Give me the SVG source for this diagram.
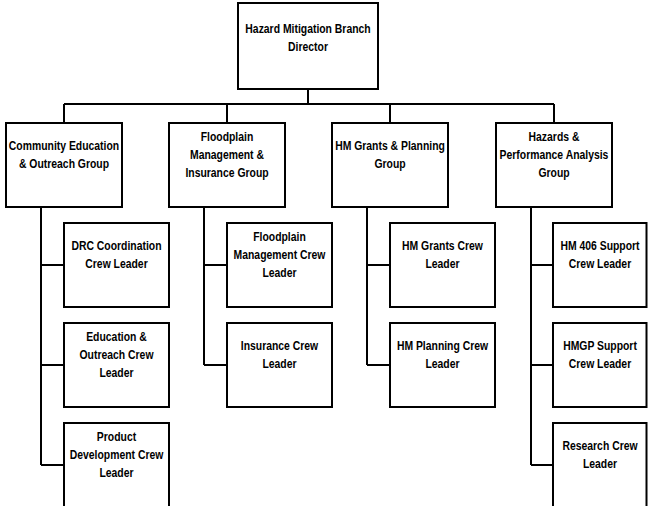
<svg xmlns="http://www.w3.org/2000/svg" width="648" height="506" viewBox="0 0 648 506">
<style>
.box{fill:#fff;stroke:#000;stroke-width:2}
.ln{fill:none;stroke:#000;stroke-width:2}
text{font-family:"Liberation Sans",Arial,sans-serif;font-weight:bold;font-size:13px;text-anchor:middle;fill:#000}
</style>
<rect width="648" height="506" fill="#fff"/>
<g id="connectors">
<path class="ln" d="M308 89V104M64 104H554M64 104V123M227 104V123M390 104V123M554 104V123"/>
<path class="ln" d="M41 207V465M41 265H64M41 365H64M41 465H64"/>
<path class="ln" d="M204 207V365M204 265H227M204 365H227"/>
<path class="ln" d="M367 207V365M367 265H390M367 365H390"/>
<path class="ln" d="M531 207V465M531 265H553M531 365H553M531 465H553"/>
</g>
<g id="director"><rect class="box" x="238" y="3" width="140" height="86"/><text transform="translate(308 33) scale(0.8 1)">Hazard Mitigation Branch</text><text transform="translate(308 51) scale(0.8 1)">Director</text></g>
<g id="community"><rect class="box" x="6" y="123" width="116" height="84"/><text transform="translate(64 150) scale(0.8 1)">Community Education</text><text transform="translate(64 168) scale(0.8 1)">&amp; Outreach Group</text></g>
<g id="floodplain"><rect class="box" x="169" y="123" width="116" height="84"/><text transform="translate(227 141) scale(0.8 1)">Floodplain</text><text transform="translate(227 159) scale(0.8 1)">Management &amp;</text><text transform="translate(227 177) scale(0.8 1)">Insurance Group</text></g>
<g id="grants"><rect class="box" x="332" y="123" width="116" height="84"/><text transform="translate(390 150) scale(0.8 1)">HM Grants &amp; Planning</text><text transform="translate(390 168) scale(0.8 1)">Group</text></g>
<g id="hazards"><rect class="box" x="496" y="123" width="116" height="84"/><text transform="translate(554 141) scale(0.8 1)">Hazards &amp;</text><text transform="translate(554 159) scale(0.8 1)">Performance Analysis</text><text transform="translate(554 177) scale(0.8 1)">Group</text></g>
<g id="drc"><rect class="box" x="64" y="223" width="105" height="84"/><text transform="translate(116.5 250) scale(0.8 1)">DRC Coordination</text><text transform="translate(116.5 268) scale(0.8 1)">Crew Leader</text></g>
<g id="education"><rect class="box" x="64" y="323" width="105" height="84"/><text transform="translate(116.5 341) scale(0.8 1)">Education &amp;</text><text transform="translate(116.5 359) scale(0.8 1)">Outreach Crew</text><text transform="translate(116.5 377) scale(0.8 1)">Leader</text></g>
<g id="product"><rect class="box" x="64" y="423" width="105" height="90"/><text transform="translate(116.5 441) scale(0.8 1)">Product</text><text transform="translate(116.5 459) scale(0.8 1)">Development Crew</text><text transform="translate(116.5 477) scale(0.8 1)">Leader</text></g>
<g id="fpcrew"><rect class="box" x="227" y="223" width="105" height="84"/><text transform="translate(279.5 241) scale(0.8 1)">Floodplain</text><text transform="translate(279.5 259) scale(0.8 1)">Management Crew</text><text transform="translate(279.5 277) scale(0.8 1)">Leader</text></g>
<g id="insurance"><rect class="box" x="227" y="323" width="105" height="84"/><text transform="translate(279.5 350) scale(0.8 1)">Insurance Crew</text><text transform="translate(279.5 368) scale(0.8 1)">Leader</text></g>
<g id="grantscrew"><rect class="box" x="390" y="223" width="105" height="84"/><text transform="translate(442.5 250) scale(0.8 1)">HM Grants Crew</text><text transform="translate(442.5 268) scale(0.8 1)">Leader</text></g>
<g id="planningcrew"><rect class="box" x="390" y="323" width="105" height="84"/><text transform="translate(442.5 350) scale(0.8 1)">HM Planning Crew</text><text transform="translate(442.5 368) scale(0.8 1)">Leader</text></g>
<g id="hm406"><rect class="box" x="553" y="223" width="93.5" height="84"/><text transform="translate(600 250) scale(0.8 1)">HM 406 Support</text><text transform="translate(600 268) scale(0.8 1)">Crew Leader</text></g>
<g id="hmgp"><rect class="box" x="553" y="323" width="93.5" height="84"/><text transform="translate(600 350) scale(0.8 1)">HMGP Support</text><text transform="translate(600 368) scale(0.8 1)">Crew Leader</text></g>
<g id="research"><rect class="box" x="553" y="423" width="93.5" height="90"/><text transform="translate(600 450) scale(0.8 1)">Research Crew</text><text transform="translate(600 468) scale(0.8 1)">Leader</text></g>
</svg>
